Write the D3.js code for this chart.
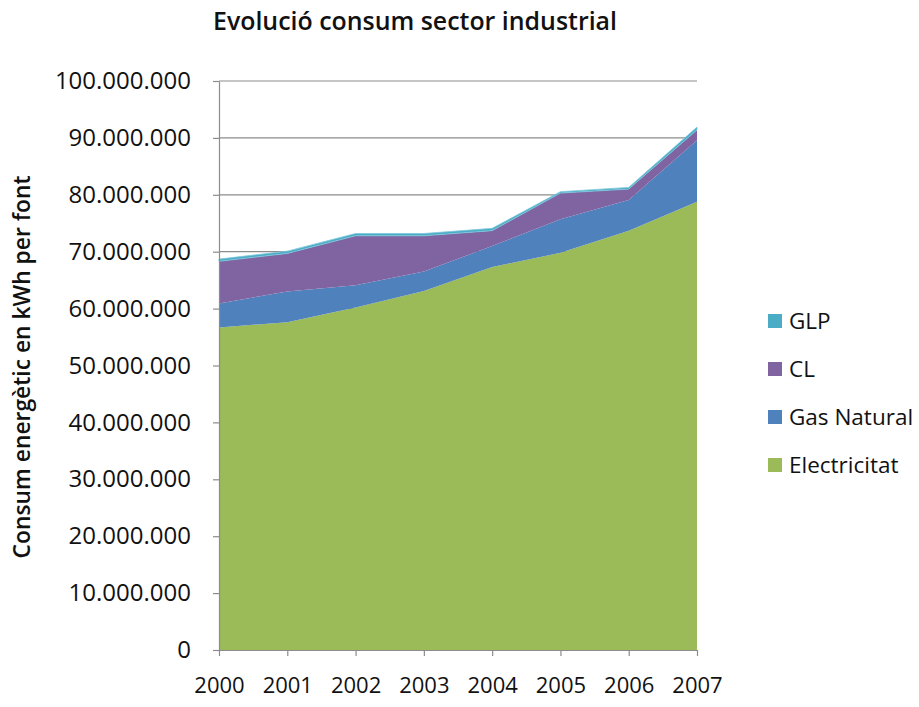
<!DOCTYPE html>
<html>
<head>
<meta charset="utf-8">
<script src="https://cdn.jsdelivr.net/npm/d3@7"></script>
<style>
  body { margin: 0; background: #fff; }
  svg { display: block; font-family: "Open Sans", "Noto Sans", sans-serif; }
</style>
</head>
<body>
<svg id="chart" width="919" height="707"></svg>
<script>
// Industrial-sector energy consumption per source, kWh
const years = ["2000", "2001", "2002", "2003", "2004", "2005", "2006", "2007"];
const electricitat = [56700000, 57600000, 60200000, 63100000, 67300000, 69800000, 73700000, 78800000];
const gasNatural   = [4200000, 5400000, 3900000, 3400000, 3700000, 5900000, 5400000, 10800000];
const cl           = [7400000, 6700000, 8700000, 6300000, 2700000, 4600000, 1900000, 1800000];
const glp          = [400000, 400000, 400000, 400000, 400000, 250000, 300000, 500000];
const yTicks = [0, 10000000, 20000000, 30000000, 40000000, 50000000, 60000000, 70000000, 80000000, 90000000, 100000000];

const seriesNames = ["Electricitat", "Gas Natural", "CL", "GLP"];
const seriesValues = [electricitat, gasNatural, cl, glp];
const colors = ["#9BBB59", "#4F81BD", "#8064A2", "#4BACC6"];

const svg = d3.select("#chart");
const margin = { left: 219, right: 222, top: 81, bottom: 57 };
const W = 919, H = 707;

const x = d3.scalePoint().domain(years).range([margin.left, W - margin.right]);
const y = d3.scaleLinear().domain([0, 100000000]).range([H - margin.bottom, margin.top]);

const fmt = v => v === 0 ? "0" : d3.format(",")(v).replace(/,/g, ".");

// scale a text element's font size so that it spans the given width
function fitWidth(sel, width) {
  const node = sel.node();
  const fs = parseFloat(sel.attr("font-size"));
  const w = node.getComputedTextLength();
  sel.attr("font-size", (fs * width / w).toFixed(2));
}

// gridlines
svg.append("g").selectAll("line").data(yTicks.filter(d => d > 0)).join("line")
  .attr("x1", margin.left).attr("x2", W - margin.right)
  .attr("y1", d => y(d)).attr("y2", d => y(d))
  .attr("stroke", "#8c8c8c").attr("stroke-width", 1.2);

// stacked areas
const table = years.map((yr, i) => {
  const row = { year: yr };
  seriesNames.forEach((n, k) => row[n] = seriesValues[k][i]);
  return row;
});
const stacked = d3.stack().keys(seriesNames)(table);
const area = d3.area()
  .x(d => x(d.data.year))
  .y0(d => y(d[0]))
  .y1(d => y(d[1]));

svg.append("g").selectAll("path").data(stacked).join("path")
  .attr("d", area)
  .attr("fill", (d, i) => colors[i])
  .attr("stroke", (d, i) => i === 3 ? "#7fc8dc" : "none")
  .attr("stroke-width", 0.8);

// y axis
const yAxis = svg.append("g").attr("transform", `translate(${margin.left},0)`)
  .call(d3.axisLeft(y).tickValues(yTicks).tickFormat(fmt).tickSizeInner(6).tickSizeOuter(0).tickPadding(22));
yAxis.select(".domain").attr("stroke", "#8c8c8c").attr("stroke-width", 1.2);
yAxis.selectAll(".tick line").attr("stroke", "#8c8c8c").attr("stroke-width", 1.2);
yAxis.selectAll(".tick text").attr("font-size", 24).attr("fill", "#111")
  .attr("font-family", "'Open Sans', sans-serif");

// x axis
const xAxis = svg.append("g").attr("transform", `translate(0,${y(0)})`)
  .call(d3.axisBottom(x).tickSizeInner(6).tickSizeOuter(0).tickPadding(21));
xAxis.select(".domain").attr("stroke", "#8c8c8c").attr("stroke-width", 1.2);
xAxis.selectAll(".tick line").attr("stroke", "#8c8c8c").attr("stroke-width", 1.2);
xAxis.selectAll(".tick text").attr("font-size", 22).attr("fill", "#111")
  .attr("font-family", "'Open Sans', sans-serif");

// title
const title = svg.append("text")
  .attr("x", 415).attr("y", 30)
  .attr("text-anchor", "middle")
  .attr("font-size", 20).attr("font-weight", 600).attr("fill", "#111")
  .text("Evolució consum sector industrial");
fitWidth(title, 404);

// y axis title
const yTitle = svg.append("text")
  .attr("transform", `translate(30,367) rotate(-90)`)
  .attr("text-anchor", "middle")
  .attr("font-size", 18).attr("font-weight", 600).attr("fill", "#111")
  .text("Consum energètic en kWh per font");
fitWidth(yTitle, 383);

// legend (top to bottom: reversed stacking order)
const legendItems = seriesNames.map((n, i) => ({ name: n, color: colors[i] })).reverse();
const lg = svg.append("g").selectAll("g").data(legendItems).join("g")
  .attr("transform", (d, i) => `translate(768,${321 + i * 48})`);
lg.append("rect").attr("x", 0).attr("y", -7).attr("width", 14).attr("height", 14)
  .attr("fill", d => d.color);
lg.append("text").attr("x", 21).attr("y", 0).attr("dy", "0.35em")
  .attr("font-size", 22.5).attr("fill", "#111")
  .text(d => d.name);
</script>
</body>
</html>
